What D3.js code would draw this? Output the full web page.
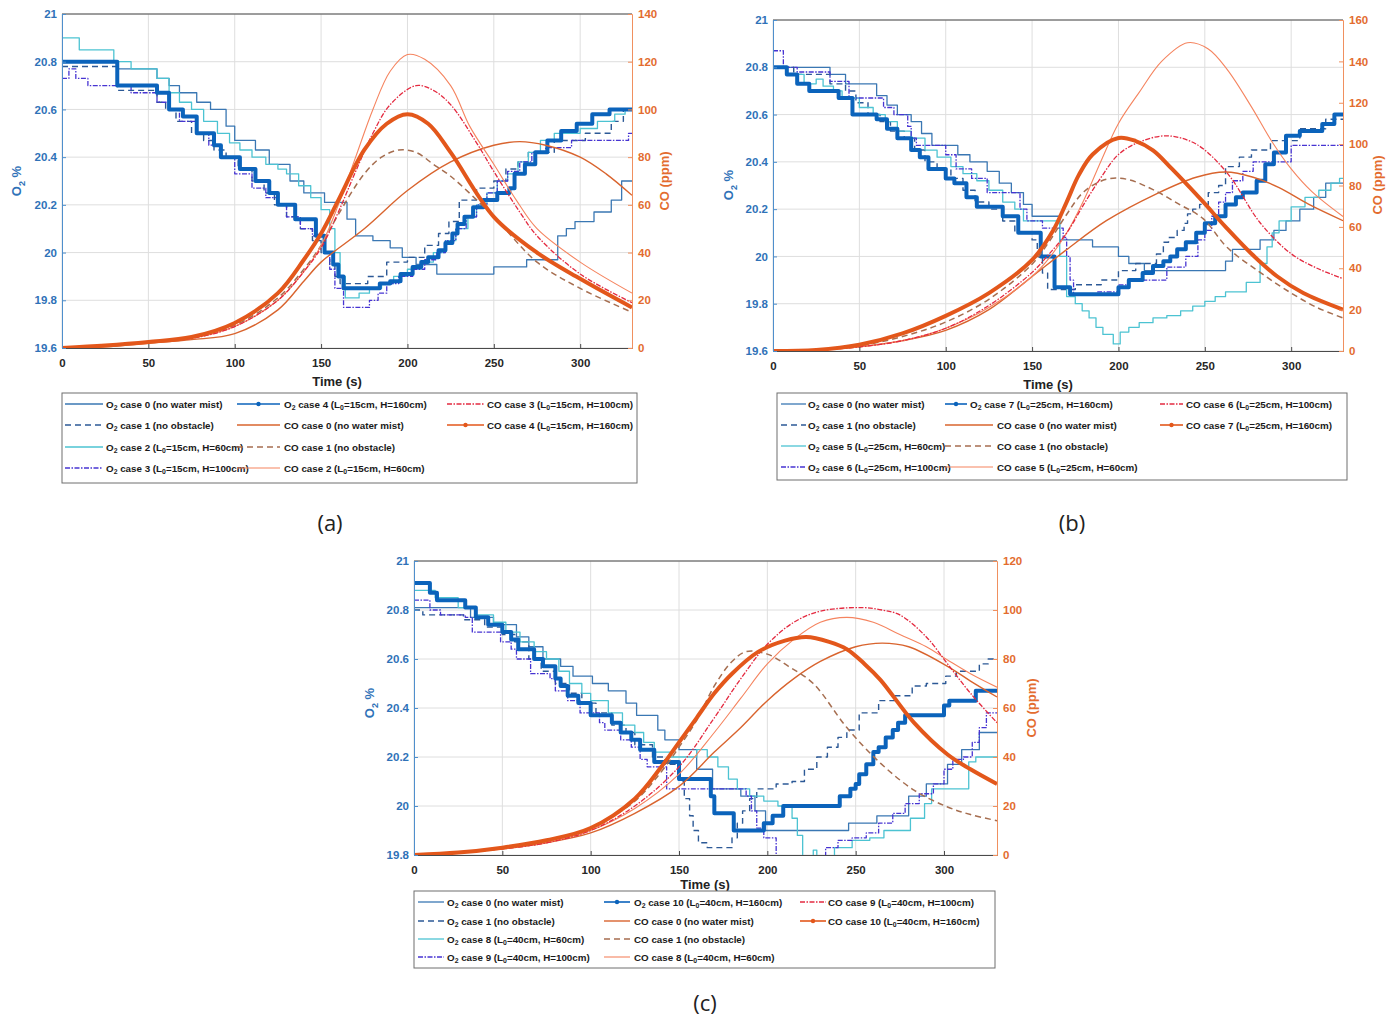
<!DOCTYPE html>
<html>
<head>
<meta charset="UTF-8">
<title>O2 and CO, cases 0-10</title>
<script src="https://d3js.org/d3.v7.min.js"></script>
<style>
body { margin: 0; background: #fff; }
svg text { font-family: "Liberation Sans", Arial, sans-serif; font-weight: bold; }
svg text.sub { font-family: "Open Sans", "Liberation Sans", sans-serif; font-weight: normal; font-size: 22px; fill: #222; }
</style>
</head>
<body>
<svg id="fig" width="1400" height="1023"></svg>
<script>
// ---------- data ----------
const timeTicks = [0, 50, 100, 150, 200, 250, 300];
const timeMax = 330;

// (a) O2 %, step series [t, value]
const aO2c0 = [[0,20.8],[32,20.77],[55,20.73],[62,20.7],[68,20.67],[78,20.63],[86,20.6],[95,20.53],[100,20.47],[112,20.43],[120,20.37],[132,20.3],[140,20.25],[152,20.21],[165,20.14],[170,20.07],[180,20.05],[190,20.02],[197,19.98],[205,19.95],[217,19.91],[250,19.94],[269,19.97],[287,20.07],[292,20.1],[297,20.13],[308,20.17],[318,20.22],[324,20.3]];
const aO2c1 = [[0,20.78],[32,20.68],[55,20.63],[60,20.6],[66,20.55],[75,20.5],[82,20.47],[88,20.43],[95,20.4],[102,20.35],[110,20.3],[117,20.25],[123,20.2],[130,20.15],[138,20.1],[145,20.05],[150,20.0],[155,19.95],[158,19.9],[161,19.87],[177,19.9],[188,19.96],[200,19.98],[210,20.03],[218,20.08],[224,20.13],[230,20.22],[240,20.27],[250,20.3],[257,20.35],[264,20.38],[270,20.42],[285,20.47],[303,20.5],[318,20.55],[325,20.6]];
const aO2c2 = [[0,20.9],[10,20.85],[30,20.8],[40,20.77],[55,20.73],[62,20.67],[68,20.63],[75,20.6],[82,20.55],[90,20.5],[97,20.46],[103,20.43],[110,20.4],[118,20.37],[125,20.35],[130,20.33],[137,20.28],[144,20.23],[150,20.18],[155,20.1],[158,20.0],[161,19.9],[164,19.81],[172,19.83],[178,19.85],[185,19.87],[192,19.9],[200,19.93],[208,19.96],[215,20.0],[222,20.05],[228,20.1],[235,20.15],[240,20.2],[246,20.25],[252,20.3],[258,20.33],[264,20.38],[270,20.42],[277,20.47],[285,20.5],[300,20.52],[310,20.55],[320,20.58],[326,20.6]];
const aO2c3 = [[0,20.73],[4,20.77],[8,20.73],[15,20.7],[40,20.67],[55,20.63],[62,20.6],[68,20.55],[78,20.5],[85,20.45],[92,20.4],[100,20.33],[110,20.27],[118,20.23],[125,20.2],[130,20.15],[138,20.1],[145,20.07],[152,20.0],[155,19.93],[158,19.85],[163,19.77],[178,19.8],[183,19.83],[188,19.87],[195,19.9],[203,19.93],[210,19.97],[217,20.0],[222,20.05],[228,20.1],[234,20.15],[240,20.2],[246,20.25],[252,20.3],[258,20.34],[265,20.38],[272,20.42],[280,20.44],[295,20.47],[328,20.5]];
const aO2c4 = [[0,20.8],[32,20.7],[55,20.67],[62,20.6],[70,20.57],[78,20.5],[88,20.45],[92,20.4],[103,20.35],[112,20.3],[120,20.25],[125,20.2],[135,20.14],[147,20.07],[152,20.0],[157,19.95],[160,19.9],[163,19.85],[184,19.87],[190,19.88],[196,19.91],[203,19.94],[208,19.96],[212,19.98],[218,20.01],[222,20.04],[226,20.08],[229,20.12],[233,20.15],[238,20.19],[244,20.22],[252,20.25],[259,20.27],[262,20.33],[268,20.37],[274,20.42],[281,20.47],[289,20.51],[298,20.54],[307,20.58],[317,20.6]];
// (a) CO ppm, smooth series [t, value]
const aCOc0 = [[0,0],[25,0.5],[50,2],[75,3.5],[100,6],[125,16],[140,28],[150,36],[175,50],[200,66],[225,78],[250,85],[265,86.5],[280,85],[300,80],[315,73],[330,64]];
const aCOc1 = [[0,0],[25,1],[50,2.5],[75,4.5],[100,9.5],[125,21],[140,33],[150,43],[160,56],[175,73],[185,80],[195,83],[205,82],[215,77],[225,72],[250,55],[275,36],[300,25],[330,15]];
const aCOc2 = [[0,0],[25,1],[50,2.5],[75,4],[100,9],[125,20],[140,32],[150,43],[160,60],[170,80],[180,100],[190,116],[200,123],[210,121],[225,110],[236,93],[250,77],[263,62],[275,50],[300,36],[330,23]];
const aCOc3 = [[0,0],[25,1],[50,2.5],[75,4],[100,9],[125,20],[140,32],[150,42],[160,57],[170,74],[180,90],[190,102],[205,110],[215,108],[225,102],[240,86],[250,74],[265,57],[275,47],[300,31],[330,19]];
const aCOc4 = [[0,0],[25,1],[50,2.5],[75,4.6],[100,10.5],[125,23],[140,37],[150,48],[160,62],[175,83],[188,94],[200,98],[212,94],[225,82],[250,55],[275,40],[300,29],[330,17]];

// (b)
const bO2c0 = [[0,20.8],[33,20.77],[42,20.73],[60,20.68],[66,20.64],[72,20.6],[80,20.57],[86,20.52],[92,20.47],[107,20.43],[114,20.4],[124,20.36],[131,20.31],[138,20.27],[145,20.22],[150,20.17],[166,20.07],[185,20.04],[200,20.0],[206,19.97],[215,19.94],[262,19.98],[266,20.03],[282,20.07],[290,20.11],[297,20.15],[305,20.2],[313,20.25],[320,20.31]];
const bO2c1 = [[0,20.8],[12,20.77],[33,20.73],[42,20.7],[48,20.65],[55,20.6],[62,20.57],[68,20.53],[76,20.5],[82,20.45],[88,20.4],[95,20.37],[103,20.33],[110,20.28],[117,20.23],[125,20.2],[133,20.15],[140,20.1],[150,20.07],[153,20.0],[156,19.93],[159,19.86],[175,19.88],[190,19.9],[200,19.94],[210,19.97],[222,20.01],[226,20.06],[229,20.08],[234,20.11],[238,20.14],[240,20.18],[243,20.2],[247,20.22],[252,20.27],[258,20.3],[262,20.38],[270,20.42],[277,20.45],[288,20.49],[305,20.54],[320,20.58]];
const bO2c5 = [[0,20.8],[8,20.77],[18,20.73],[25,20.75],[29,20.72],[35,20.7],[40,20.67],[50,20.63],[58,20.6],[65,20.57],[72,20.53],[80,20.5],[88,20.45],[95,20.42],[103,20.38],[110,20.35],[118,20.32],[125,20.28],[133,20.23],[140,20.2],[145,20.15],[166,20.0],[170,19.83],[175,19.8],[179,19.77],[183,19.74],[187,19.7],[191,19.67],[197,19.63],[201,19.68],[206,19.7],[212,19.72],[220,19.74],[228,19.75],[236,19.77],[243,19.79],[250,19.81],[256,19.83],[262,19.85],[274,19.89],[282,19.97],[286,20.04],[289,20.1],[293,20.15],[300,20.21],[308,20.25],[316,20.28],[323,20.31],[328,20.33]];
const bO2c6 = [[0,20.87],[6,20.8],[14,20.78],[33,20.74],[44,20.67],[64,20.63],[70,20.6],[78,20.55],[80,20.5],[83,20.47],[100,20.43],[106,20.37],[115,20.33],[124,20.27],[143,20.2],[147,20.15],[156,20.12],[168,20.08],[170,20.0],[172,19.9],[174,19.84],[188,19.85],[200,19.88],[206,19.9],[228,19.955],[239,20.0],[246,20.07],[250,20.11],[254,20.17],[258,20.23],[262,20.27],[266,20.32],[272,20.36],[278,20.4],[300,20.47]];
const bO2c7 = [[0,20.8],[8,20.77],[14,20.73],[21,20.7],[38,20.67],[46,20.6],[60,20.58],[66,20.54],[72,20.5],[80,20.45],[85,20.42],[90,20.37],[100,20.33],[105,20.31],[112,20.25],[118,20.21],[133,20.17],[142,20.1],[155,20.0],[163,19.87],[172,19.84],[200,19.87],[206,19.9],[214,19.93],[220,19.96],[226,19.98],[230,20.0],[234,20.03],[239,20.06],[245,20.1],[250,20.14],[256,20.17],[262,20.22],[268,20.25],[272,20.27],[280,20.32],[285,20.39],[290,20.44],[297,20.51],[305,20.53],[318,20.56],[325,20.6]];
const bCOc0 = [[0,0],[25,0.5],[50,2],[75,5],[100,10],[125,20],[150,36],[170,49],[193,63],[222,76],[245,84],[262,86.5],[278,84],[293,79],[310,71],[330,63]];
const bCOc1 = [[0,0],[25,0.5],[50,2.5],[75,7],[100,14],[125,25],[150,42],[160,53],[170,66],[180,77],[193,83],[205,83],[220,78],[235,71],[249,64],[263,50],[282,38],[300,28],[315,21],[330,16]];
const bCOc5 = [[0,0],[25,0.5],[50,2],[75,5],[100,11],[125,21],[150,36],[160,45],[170,57],[180,73],[190,92],[200,110],[212,125],[225,140],[240,149],[252,146],[263,136],[277,118],[289,101],[300,88],[312,77],[330,65]];
const bCOc6 = [[0,0],[25,0.5],[50,2],[75,5],[100,11],[125,22],[150,38],[160,47],[170,57],[180,71],[190,84],[200,95],[212,101],[228,104],[245,100],[263,86],[282,62],[300,47],[315,40],[330,35]];
const bCOc7 = [[0,0],[25,0.5],[50,3],[75,8.5],[100,17],[125,28],[150,44],[162,58],[170,72],[177,85],[185,95],[200,103],[210,101.5],[220,97],[231,88],[248,73],[262,60],[277,47],[292,36],[307,28],[330,20]];

// (c)
const cO2c0 = [[0,20.81],[32,20.77],[45,20.74],[58,20.69],[65,20.65],[73,20.6],[83,20.57],[90,20.53],[101,20.5],[110,20.47],[120,20.42],[126,20.37],[138,20.31],[142,20.27],[150,20.23],[160,20.15],[169,20.07],[185,20.04],[193,19.98],[199,19.9],[246,19.93],[262,19.96],[280,20.04],[290,20.09],[302,20.17],[310,20.23],[320,20.3]];
const cO2c1 = [[0,20.8],[5,20.78],[28,20.76],[40,20.73],[50,20.7],[57,20.67],[65,20.6],[72,20.55],[80,20.5],[88,20.46],[95,20.42],[103,20.38],[112,20.33],[120,20.3],[125,20.25],[135,20.2],[142,20.17],[150,20.1],[153,20.03],[156,19.96],[158,19.9],[161,19.85],[166,19.83],[180,19.87],[183,19.93],[186,19.98],[190,20.03],[194,20.07],[205,20.09],[214,20.1],[221,20.15],[228,20.2],[234,20.24],[240,20.28],[245,20.31],[252,20.38],[263,20.43],[272,20.45],[282,20.49],[290,20.5],[301,20.53],[307,20.55],[320,20.58],[325,20.6]];
const cO2c8 = [[0,20.88],[12,20.85],[25,20.81],[35,20.78],[45,20.75],[52,20.71],[60,20.67],[68,20.63],[75,20.6],[82,20.55],[88,20.5],[95,20.46],[100,20.43],[110,20.38],[118,20.33],[125,20.3],[130,20.26],[136,20.22],[145,20.2],[160,20.23],[166,20.2],[172,20.16],[178,20.11],[183,20.07],[190,20.04],[198,20.02],[206,20.0],[214,19.95],[217,19.88],[220,19.78],[226,19.82],[228,19.78],[238,19.83],[248,19.86],[258,19.87],[266,19.9],[281,19.95],[289,20.01],[293,20.07],[314,20.18],[318,20.2]];
const cO2c9 = [[0,20.84],[9,20.8],[15,20.78],[29,20.77],[33,20.71],[49,20.67],[55,20.64],[58,20.6],[66,20.54],[77,20.52],[80,20.47],[87,20.43],[94,20.38],[105,20.34],[108,20.31],[117,20.27],[123,20.24],[128,20.19],[132,20.16],[143,20.07],[188,20.04],[191,19.98],[194,19.91],[198,19.87],[205,19.78],[233,19.83],[240,19.86],[248,19.87],[256,19.89],[263,19.93],[271,19.97],[278,20.01],[286,20.05],[294,20.09],[300,20.15],[305,20.19],[311,20.2],[316,20.26],[320,20.32],[324,20.38]];
const cO2c10 = [[0,20.91],[9,20.87],[13,20.84],[29,20.81],[35,20.77],[42,20.74],[50,20.71],[55,20.68],[59,20.64],[68,20.6],[73,20.57],[80,20.52],[83,20.49],[87,20.45],[93,20.42],[100,20.37],[112,20.34],[117,20.3],[123,20.27],[128,20.23],[136,20.18],[150,20.11],[168,20.04],[170,19.97],[181,19.9],[198,19.93],[203,19.96],[209,20.0],[241,20.04],[247,20.07],[250,20.09],[252,20.13],[256,20.17],[260,20.22],[263,20.24],[267,20.28],[271,20.31],[274,20.34],[278,20.37],[300,20.41],[303,20.43],[318,20.47]];
const cCOc0 = [[0,0],[25,1],[50,2.5],[75,5],[100,9],[125,17],[150,28],[170,42],[185,52],[200,63],[215,72],[230,79],[250,85],[265,86.5],[280,85],[302,77],[315,71],[330,64.5]];
const cCOc1 = [[0,0],[25,1],[50,3],[75,6],[100,11],[125,22],[140,34],[150,44],[160,55],[170,69],[180,79],[188,83],[200,82],[212,77],[226,70],[245,52],[264,37.5],[283,26.5],[302,19.6],[315,16.5],[330,14]];
const cCOc8 = [[0,0],[25,1],[50,2.5],[75,5],[100,10],[125,19],[150,33],[170,50],[185,64],[200,78],[215,88],[230,95],[245,97],[260,95],[275,90],[290,85],[302,79.6],[315,74],[330,68.5]];
const cCOc9 = [[0,0],[25,1],[50,2.5],[75,5],[100,10],[125,20],[150,36],[170,56],[185,72],[200,86],[215,95],[230,99.5],[253,101],[265,100],[275,98],[290,89],[302,78],[315,66],[330,54]];
const cCOc10 = [[0,0],[25,1],[50,3],[75,6],[100,11],[125,23],[140,36],[150,46],[160,56],[170,66],[180,74],[195,83],[210,87.5],[222,89],[235,87],[245,84],[255,78],[264,71.5],[283,54],[302,41],[315,35],[330,29]];

// ---------- styles ----------
const styles = {
  o2c0:    { color: "#3a77b3", w: 1.3 },
  o2c1:    { color: "#2c5996", w: 1.4, dash: "6,4" },
  o2cyan:  { color: "#4cc3d2", w: 1.3 },
  o2purple:{ color: "#4734d2", w: 1.3, dash: "5,1.5,1.5,1.5" },
  o2thick: { color: "#0b63bb", w: 4, marker: true },
  co0:     { color: "#d9642e", w: 1.4 },
  co1:     { color: "#a66e50", w: 1.5, dash: "6,4" },
  cothin:  { color: "#f5845f", w: 1.1 },
  cored:   { color: "#e42a40", w: 1.3, dash: "5,1.5,1.5,1.5" },
  cothick: { color: "#e3571b", w: 4, marker: true }
};
const blueTxt = "#2f72b8", orangeTxt = "#e36c2f";

const panels = [
  { id: "a", x0: 62, x1: 632, y0: 14, y1: 348, o2Min: 19.6, coMax: 140,
    tLab: [337, 386], o2Lab: [21, 181], coLab: [669, 181], sub: ["(a)", 330, 531],
    o2: [[aO2c0,"o2c0"],[aO2c1,"o2c1"],[aO2c2,"o2cyan"],[aO2c3,"o2purple"],[aO2c4,"o2thick"]],
    co: [[aCOc0,"co0"],[aCOc1,"co1"],[aCOc2,"cothin"],[aCOc3,"cored"],[aCOc4,"cothick"]],
    box: [62, 393, 575, 90], rows: [404, 425, 447, 468],
    legend: [
      [65,103,106,0,"O_{2} case 0 (no water mist)","o2c0"],
      [65,103,106,1,"O_{2} case 1 (no obstacle)","o2c1"],
      [65,103,106,2,"O_{2} case 2 (L_{0}=15cm, H=60cm)","o2cyan"],
      [65,103,106,3,"O_{2} case 3 (L_{0}=15cm, H=100cm)","o2purple"],
      [237,280,284,0,"O_{2} case 4 (L_{0}=15cm, H=160cm)","o2thick"],
      [237,280,284,1,"CO case 0 (no water mist)","co0"],
      [237,280,284,2,"CO case 1 (no obstacle)","co1"],
      [237,280,284,3,"CO case 2 (L_{0}=15cm, H=60cm)","cothin"],
      [447,484,487,0,"CO case 3 (L_{0}=15cm, H=100cm)","cored"],
      [447,484,487,1,"CO case 4 (L_{0}=15cm, H=160cm)","cothick"]
    ] },
  { id: "b", x0: 773, x1: 1343, y0: 20, y1: 351, o2Min: 19.6, coMax: 160,
    tLab: [1048, 389], o2Lab: [733, 185], coLab: [1382, 185], sub: ["(b)", 1072, 531],
    o2: [[bO2c0,"o2c0"],[bO2c1,"o2c1"],[bO2c5,"o2cyan"],[bO2c6,"o2purple"],[bO2c7,"o2thick"]],
    co: [[bCOc0,"co0"],[bCOc1,"co1"],[bCOc5,"cothin"],[bCOc6,"cored"],[bCOc7,"cothick"]],
    box: [777, 393, 570, 87], rows: [404, 425, 446, 467],
    legend: [
      [781,806,808,0,"O_{2} case 0 (no water mist)","o2c0"],
      [781,806,808,1,"O_{2} case 1 (no obstacle)","o2c1"],
      [781,806,808,2,"O_{2} case 5 (L_{0}=25cm, H=60cm)","o2cyan"],
      [781,806,808,3,"O_{2} case 6 (L_{0}=25cm, H=100cm)","o2purple"],
      [945,967,970,0,"O_{2} case 7 (L_{0}=25cm, H=160cm)","o2thick"],
      [945,993,997,1,"CO case 0 (no water mist)","co0"],
      [945,993,997,2,"CO case 1 (no obstacle)","co1"],
      [945,993,997,3,"CO case 5 (L_{0}=25cm, H=60cm)","cothin"],
      [1160,1183,1186,0,"CO case 6 (L_{0}=25cm, H=100cm)","cored"],
      [1160,1183,1186,1,"CO case 7 (L_{0}=25cm, H=160cm)","cothick"]
    ] },
  { id: "c", x0: 414, x1: 997, y0: 561, y1: 855, o2Min: 19.8, coMax: 120,
    tLab: [705, 889], o2Lab: [374, 703], coLab: [1036, 708], sub: ["(c)", 705, 1011],
    o2: [[cO2c0,"o2c0"],[cO2c1,"o2c1"],[cO2c8,"o2cyan"],[cO2c9,"o2purple"],[cO2c10,"o2thick"]],
    co: [[cCOc0,"co0"],[cCOc1,"co1"],[cCOc8,"cothin"],[cCOc9,"cored"],[cCOc10,"cothick"]],
    box: [414, 891, 581, 77], rows: [902, 921, 939, 957],
    legend: [
      [418,444,447,0,"O_{2} case 0 (no water mist)","o2c0"],
      [418,444,447,1,"O_{2} case 1 (no obstacle)","o2c1"],
      [418,444,447,2,"O_{2} case 8 (L_{0}=40cm, H=60cm)","o2cyan"],
      [418,444,447,3,"O_{2} case 9 (L_{0}=40cm, H=100cm)","o2purple"],
      [604,630,634,0,"O_{2} case 10 (L_{0}=40cm, H=160cm)","o2thick"],
      [604,630,634,1,"CO case 0 (no water mist)","co0"],
      [604,630,634,2,"CO case 1 (no obstacle)","co1"],
      [604,630,634,3,"CO case 8 (L_{0}=40cm, H=60cm)","cothin"],
      [800,826,828,0,"CO case 9 (L_{0}=40cm, H=100cm)","cored"],
      [800,826,828,1,"CO case 10 (L_{0}=40cm, H=160cm)","cothick"]
    ] }
];

const svg = d3.select("#fig");

// text with _{sub} parts as real tspans
function richText(sel, str, fs) {
  const parts = str.split(/_\{([^}]*)\}/);
  let shifted = false;
  parts.forEach((s, i) => {
    if (i % 2 === 1) {
      sel.append("tspan").attr("dy", fs * 0.3).attr("font-size", fs * 0.7).text(s);
      shifted = true;
    } else if (s) {
      sel.append("tspan").attr("dy", shifted ? -fs * 0.3 : 0).text(s);
      shifted = false;
    }
  });
}

function styleLine(sel, st) {
  sel.attr("fill", "none").attr("stroke", st.color).attr("stroke-width", st.w)
     .attr("stroke-dasharray", st.dash || null).attr("stroke-linejoin", "round");
}

function drawPanel(p) {
  const g = svg.append("g");
  const x = d3.scaleLinear().domain([0, timeMax]).range([p.x0, p.x1]);
  const yL = d3.scaleLinear().domain([p.o2Min, 21]).range([p.y1, p.y0]);
  const yR = d3.scaleLinear().domain([0, p.coMax]).range([p.y1, p.y0]);
  const o2Ticks = d3.range(p.o2Min, 21.001, 0.2).map(v => +v.toFixed(1));
  const coTicks = d3.range(0, p.coMax + 1, 20);

  // grid
  g.append("g").selectAll("line").data(timeTicks).join("line")
    .attr("x1", d => x(d)).attr("x2", d => x(d)).attr("y1", p.y0).attr("y2", p.y1)
    .attr("stroke", "#dedede");
  g.append("g").selectAll("line").data(o2Ticks).join("line")
    .attr("x1", p.x0).attr("x2", p.x1).attr("y1", d => yL(d)).attr("y2", d => yL(d))
    .attr("stroke", "#dedede");

  // lines
  const clipId = "clip-" + p.id;
  g.append("clipPath").attr("id", clipId).append("rect")
    .attr("x", p.x0).attr("y", p.y0).attr("width", p.x1 - p.x0).attr("height", p.y1 - p.y0);
  const plot = g.append("g").attr("clip-path", `url(#${clipId})`);

  const stepLine = d3.line().x(d => x(d[0])).y(d => yL(d[1])).curve(d3.curveStepAfter);
  const smoothLine = d3.line().x(d => x(d[0])).y(d => yR(d[1])).curve(d3.curveCatmullRom.alpha(0.5));

  p.o2.forEach(([data, key]) => {
    const pts = data.concat([[timeMax, data[data.length - 1][1]]]);
    plot.append("path").attr("d", stepLine(pts)).call(styleLine, styles[key]);
  });
  p.co.forEach(([data, key]) => {
    plot.append("path").attr("d", smoothLine(data)).call(styleLine, styles[key]);
  });

  // axes
  const ax = g.append("g").attr("transform", `translate(0,${p.y1})`)
    .call(d3.axisBottom(x).tickValues(timeTicks).tickSize(-4).tickPadding(11));
  ax.select(".domain").attr("stroke", "#4a4a4a");
  ax.selectAll(".tick line").attr("stroke", "#4a4a4a");
  ax.selectAll("text").attr("fill", "#262626").attr("font-size", 11.5);

  g.append("line").attr("x1", p.x0).attr("x2", p.x1).attr("y1", p.y0).attr("y2", p.y0)
    .attr("stroke", "#4a4a4a");

  const al = g.append("g").attr("transform", `translate(${p.x0},0)`)
    .call(d3.axisLeft(yL).tickValues(o2Ticks).tickSize(-4).tickPadding(5).tickFormat(d => String(d)));
  al.select(".domain").attr("stroke", "#4f8fcc");
  al.selectAll(".tick line").attr("stroke", "#4f8fcc");
  al.selectAll("text").attr("fill", blueTxt).attr("font-size", 11.5);

  const ar = g.append("g").attr("transform", `translate(${p.x1},0)`)
    .call(d3.axisRight(yR).tickValues(coTicks).tickSize(-4).tickPadding(6));
  ar.select(".domain").attr("stroke", "#f0905f");
  ar.selectAll(".tick line").attr("stroke", "#f0905f");
  ar.selectAll("text").attr("fill", orangeTxt).attr("font-size", 11.5);

  // axis titles
  g.append("text").attr("x", p.tLab[0]).attr("y", p.tLab[1]).attr("text-anchor", "middle")
    .attr("font-size", 13).attr("fill", "#222").text("Time (s)");
  g.append("text").attr("text-anchor", "middle").attr("font-size", 13).attr("fill", blueTxt)
    .attr("transform", `translate(${p.o2Lab[0]},${p.o2Lab[1]}) rotate(-90)`)
    .call(richText, "O_{2} %", 13);
  g.append("text").attr("text-anchor", "middle").attr("font-size", 13).attr("fill", orangeTxt)
    .attr("transform", `translate(${p.coLab[0]},${p.coLab[1]}) rotate(-90)`)
    .text("CO (ppm)");

  // legend
  const lg = g.append("g");
  lg.append("rect").attr("x", p.box[0]).attr("y", p.box[1]).attr("width", p.box[2]).attr("height", p.box[3])
    .attr("fill", "#fff").attr("stroke", "#6e6e6e").attr("stroke-width", 1);
  p.legend.forEach(([lx0, lx1, tx, row, label, key]) => {
    const yy = p.rows[row];
    const st = styles[key];
    lg.append("line").attr("x1", lx0).attr("x2", lx1).attr("y1", yy).attr("y2", yy)
      .call(styleLine, Object.assign({}, st, { w: Math.min(st.w, 1.6) }));
    if (st.marker) {
      lg.append("circle").attr("cx", (lx0 + lx1) / 2).attr("cy", yy).attr("r", 2.2).attr("fill", st.color);
    }
    lg.append("text").attr("x", tx).attr("y", yy + 3.5).attr("font-size", 9.8).attr("fill", "#1a1a1a")
      .call(richText, label, 9.8);
  });

  svg.append("text").attr("class", "sub").attr("x", p.sub[1]).attr("y", p.sub[2])
    .attr("text-anchor", "middle").text(p.sub[0]);
}

panels.forEach(drawPanel);
</script>
</body>
</html>
